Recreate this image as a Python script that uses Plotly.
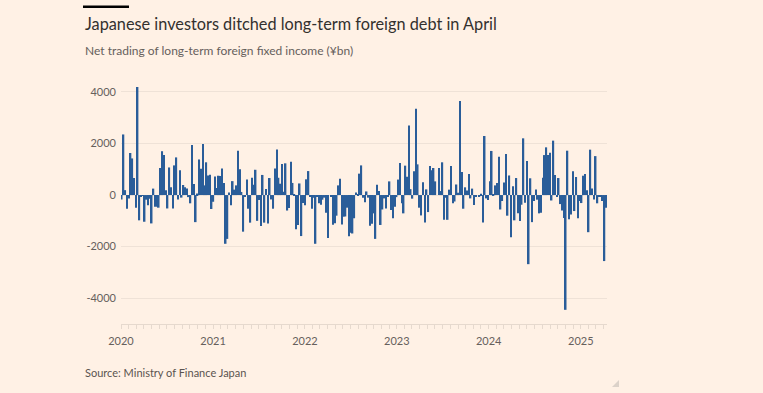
import pandas as pd
import plotly.graph_objects as go

# Weekly net trading of long-term foreign fixed income (¥bn)
net_2020 = [-170, 2350, 190, -530, -130, 1630, 1420, 660, -490, 4190, -980, -40, -30,
            -1035, -180, -400, -140, -1100, 250, -450, -450, -490, 1050, 1700, 1550, 190,
            -520, 1070, 300, -520, 1150, 1460, -170, 960, -100, 390, 300, 250, -80, -320,
            1940, 430, -1050, 60, 1380, 1020, 1980, 375, 1270, 760, 790, -540]
net_2021 = [-260, 720, 270, 750, 740, 1030, 470, -1890, -1700, 100, -400, 540, 210, 375,
            1720, 1000, 120, -1420, -65, 600, -530, -1070, 670, 400, 980, -1000, -190,
            -1200, 780, -1070, 230, -1100, 660, -170, -530, 1030, 1770, 670, 440, 1200,
            130, 1230, -600, -500, 1290, 470, 40, -1330, -1160, 450, -1590, -310]
net_2022 = [-400, 610, 930, -50, -530, -100, -1890, -50, -320, -375, -180, -100, -690,
            -1670, 0, -65, -1150, -1090, -800, 375, 630, -1140, -840, -830, -490, -1600,
            -1460, -1490, -900, 100, 30, 830, 1150, -100, -280, 140, -100, -1190, -1110,
            -710, -1700, 400, 155, -1160, -560, -130, -520, -60, 530, -580, -900, -450, -80]
net_2023 = [600, 1240, -320, -710, 1140, 710, 2700, 230, -140, 920, 3350, 1190, -490,
            -790, 500, -1060, 220, -660, 1125, 960, 1050, 530, 0, 1050, 155, 1270, -960,
            -100, -960, 210, 1125, -320, -250, 410, 90, 3650, 890, -530, 300, 180, 815,
            -130, 250, -390, -80, 0, -50, 50, -1060, 2290, -130, -190]
net_2024 = [540, 1710, 30, 375, 470, 1490, -560, -230, 490, 1590, -800, 760, -1640, 340,
            -980, 660, -710, -1010, -375, 2200, -300, 1320, -2680, 650, -1050, -230, 220,
            -180, -710, -690, 670, 1550, 1850, 1550, 1640, -210, 2110, 780, -40, 660, -350,
            -600, -890, -4450, 1720, -940, -750, 920, -620, 700, -900, -230]
net_2025 = [-310, 750, 815, 190, -1440, 1760, 250, -170, 1510, -320, -50, -40, -230,
            -2560, -490]

values = net_2020 + net_2021 + net_2022 + net_2023 + net_2024 + net_2025
weeks = pd.date_range("2020-01-04", periods=len(values), freq="W-SAT")

y_tick_vals = [-4000, -2000, 0, 2000, 4000]
y_tick_text = ["-4000", "-2000", "0", "2000", "4000"]
x_tick_vals = ["2020-01-01", "2021-01-01", "2022-01-01", "2023-01-01", "2024-01-01", "2025-01-01"]
x_tick_text = ["2020", "2021", "2022", "2023", "2024", "2025"]

title = "Japanese investors ditched long-term foreign debt in April"
subtitle = "Net trading of long-term foreign fixed income (¥bn)"
source = "Source: Ministry of Finance Japan"

W, H = 763, 393
L, R, T, B = 121, 156, 79, 69
PW, PH = W - L - R, H - T - B


def px(x):
    return (x - L) / PW


def py(y):
    return (H - B - y) / PH


FONT = "Lato"
BG = "#FFF1E5"

fig = go.Figure()
fig.add_trace(go.Bar(x=weeks, y=values, marker=dict(color="#2a5d99", line=dict(width=0)),
                     hoverinfo="x+y"))

fig.update_layout(
    width=W, height=H,
    margin=dict(l=L, r=R, t=T, b=B),
    paper_bgcolor=BG, plot_bgcolor=BG,
    bargap=0.12,
    showlegend=False,
    font=dict(family=FONT, color="#66605c", size=11),
    xaxis=dict(
        range=["2020-01-01", "2025-04-15"],
        tickvals=x_tick_vals, ticktext=x_tick_text,
        ticks="outside", ticklen=4, tickcolor="#e6d9ce", tickwidth=1,
        showline=True, linecolor="#e6d9ce", linewidth=1,
        showgrid=False, zeroline=False,
        minor=dict(dtick="M1", ticks="outside", ticklen=4, tickcolor="#e6d9ce", showgrid=False),
        tickfont=dict(size=11, color="#66605c"),
        ticklabelstandoff=3,
    ),
    yaxis=dict(
        range=[-5000, 4500],
        tickvals=y_tick_vals, ticktext=y_tick_text,
        showgrid=True, gridcolor="#efe2d7", gridwidth=1,
        zeroline=False, showline=False, ticks="",
        tickfont=dict(size=11, color="#66605c"),
        ticklabelstandoff=4,
    ),
    annotations=[
        dict(text=title, x=px(83), y=py(24), xref="paper", yref="paper", xanchor="left",
             yanchor="middle", showarrow=False, font=dict(family=FONT, size=16.3, color="#33302e")),
        dict(text=subtitle, x=px(83), y=py(50.5), xref="paper", yref="paper", xanchor="left",
             yanchor="middle", showarrow=False, font=dict(family=FONT, size=12, color="#66605c")),
        dict(text=source, x=px(83), y=py(372), xref="paper", yref="paper", xanchor="left",
             yanchor="middle", showarrow=False, font=dict(family=FONT, size=11, color="#5a5450")),
    ],
    shapes=[
        dict(type="rect", xref="paper", yref="paper", x0=px(83), x1=px(129), y0=py(8), y1=py(5.5),
             fillcolor="#000000", line=dict(width=0)),
        dict(type="path", xref="paper", yref="paper",
             path=f"M {px(619)},{py(380)} L {px(619)},{py(387)} L {px(612)},{py(387)} Z",
             fillcolor="#dcd2c9", line=dict(width=0)),
    ],
)

fig.write_html("out.html", config={"displayModeBar": False},
               post_script="document.body.style.margin='0';")
